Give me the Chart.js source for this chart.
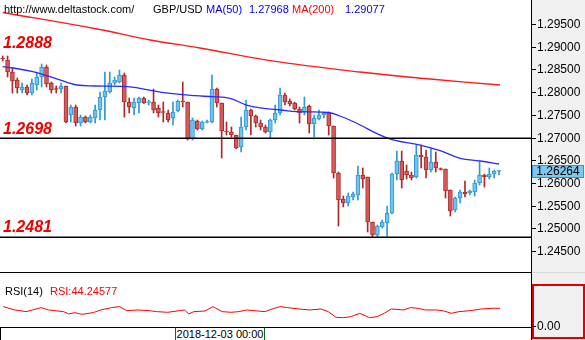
<!DOCTYPE html>
<html>
<head>
<meta charset="utf-8">
<script src="https://cdn.jsdelivr.net/npm/chart.js@4.4.1/dist/chart.umd.min.js"></script>
<style>
  html, body { margin: 0; padding: 0; background: #fff; }
  #wrap { position: relative; width: 585px; height: 340px; overflow: hidden; background: #fff;
          font-family: "Liberation Sans", Arial, sans-serif; }
  #axisPanel { position: absolute; left: 531px; top: 0; width: 53px; height: 340px;
               background: #f0f0f0; border-left: 1px solid #000; }
  #axisSplit { position: absolute; left: 532px; top: 272px; width: 53px; height: 1px; background: #d8d8d8; }
  #mainCanvas { position: absolute; left: 0; top: 0; }
  #rsiCanvas { position: absolute; left: 0; top: 273px; }
  #mainBottom { position: absolute; left: 0; top: 272px; width: 531px; height: 1px; background: #000; }
  #rsiBox { position: absolute; left: 532px; top: 284px; width: 53px; height: 55px; box-sizing: border-box;
            border: 2px solid #e00000; }
  #timeBar { position: absolute; left: 0; top: 327px; width: 531px; height: 13px; box-sizing: border-box;
             border-top: 1px solid #000; border-left: 1px solid #000; background: #fff; }
  #timeTag { position: absolute; left: 175px; top: 327px; width: 90px; height: 13px; box-sizing: border-box;
             border-left: 1px solid #0a6a0a; border-right: 1px solid #0a6a0a; border-top: 1px solid #000;
             font-size: 11px; line-height: 12px; text-align: center; color: #000; background: #fff; }
  .hdr { position: absolute; top: 3px; font-size: 11px; line-height: 12px; white-space: nowrap; }
  .rsiTxt { position: absolute; top: 285px; font-size: 11px; line-height: 12px; white-space: nowrap; }
</style>
</head>
<body>
<div id="wrap">
  <div id="axisPanel"></div>
  <div id="axisSplit"></div>
  <canvas id="mainCanvas" width="585" height="272"></canvas>
  <div id="mainBottom"></div>
  <div id="timeBar"></div>
  <div id="timeTag"></div>
  <div id="rsiBox"></div>
  <canvas id="rsiCanvas" width="585" height="67"></canvas>
  <div class="hdr" style="left:4px;color:#000">http://www.deltastock.com/</div>
  <div class="hdr" style="left:153px;color:#000">GBP/USD</div>
  <div class="hdr" style="left:206px;color:#0000ff">MA(50)</div>
  <div class="hdr" style="left:249px;color:#0000ff">1.27968</div>
  <div class="hdr" style="left:292px;color:#ff0000">MA(200)</div>
  <div class="hdr" style="left:345px;color:#0000ff">1.29077</div>
  <div class="rsiTxt" style="left:5px;color:#000">RSI(14)</div>
  <div class="rsiTxt" style="left:50px;color:#ff0000">RSI:44.24577</div>
</div>
<script>
// GBP/USD candles, one per session
const opens = [
  1.28751,1.28707,1.28443,1.28267,1.28046,1.28112,1.27980,1.28157,1.28333,1.28553,
  1.28201,1.28068,1.28068,1.28135,1.27496,1.27672,1.27319,1.27452,1.27341,1.27430,
  1.27606,1.27892,1.28002,1.28201,1.28223,1.28377,1.27782,1.27650,1.27760,1.27870,
  1.27771,1.27782,1.27650,1.27562,1.27540,1.27430,1.27584,1.27804,1.27782,1.26967,
  1.27363,1.27187,1.27330,1.27341,1.28068,1.27760,1.27143,1.27121,1.27055,1.26791,
  1.27231,1.27606,1.27474,1.27319,1.27231,1.27121,1.27385,1.27540,1.27936,1.27804,
  1.27760,1.27628,1.27562,1.27694,1.27297,1.27408,1.27496,1.27540,1.27253,1.26218,
  1.25646,1.25558,1.25690,1.25734,1.26174,1.26130,1.25139,1.24853,1.25029,1.25117,
  1.25338,1.26196,1.26483,1.26262,1.26174,1.26130,1.26615,1.26571,1.26284,1.26461,
  1.26307,1.26307,1.25844,1.25404,1.25668,1.25800,1.25778,1.25800,1.25998,1.26174,
  1.26130,1.26196,1.26258
];
const highs = [
  1.28795,1.28795,1.28531,1.28311,1.28201,1.28157,1.28289,1.28421,1.28619,1.28597,
  1.28223,1.28135,1.28201,1.28135,1.27716,1.27716,1.27496,1.27474,1.27496,1.27716,
  1.28002,1.28443,1.28443,1.28333,1.28487,1.28421,1.27870,1.27870,1.27892,1.27892,
  1.27826,1.28068,1.27716,1.27782,1.27606,1.27782,1.27826,1.28223,1.27782,1.27430,
  1.27385,1.27363,1.27385,1.28377,1.28090,1.27760,1.27341,1.27231,1.27055,1.27452,
  1.27826,1.27628,1.27496,1.27385,1.27275,1.27408,1.27716,1.28090,1.27980,1.27848,
  1.27782,1.27672,1.27892,1.27716,1.27496,1.27606,1.27562,1.27562,1.27253,1.26240,
  1.25712,1.25778,1.25800,1.26373,1.26329,1.26130,1.25139,1.25073,1.25183,1.25492,
  1.26218,1.26703,1.26703,1.26395,1.26240,1.26835,1.26835,1.26725,1.26769,1.26681,
  1.26329,1.26307,1.25844,1.25690,1.25844,1.26042,1.25844,1.26064,1.26461,1.26196,
  1.26329,1.26284,1.26264
];
const lows = [
  1.28685,1.28333,1.27980,1.27980,1.27980,1.27936,1.27936,1.28046,1.28112,1.28112,
  1.27980,1.27980,1.27980,1.27319,1.27341,1.27253,1.27253,1.27319,1.27319,1.27319,
  1.27385,1.27385,1.27980,1.28157,1.28201,1.27452,1.27540,1.27496,1.27540,1.27750,
  1.27716,1.27540,1.27452,1.27341,1.27341,1.27275,1.27562,1.27672,1.26945,1.26945,
  1.27165,1.27165,1.27319,1.27319,1.27672,1.26549,1.27055,1.27011,1.26747,1.26681,
  1.27165,1.27055,1.27231,1.27165,1.27099,1.26989,1.27319,1.27496,1.27716,1.27694,
  1.27606,1.27319,1.27496,1.27099,1.27011,1.27385,1.27430,1.27055,1.26108,1.25051,
  1.25470,1.25492,1.25624,1.25624,1.25888,1.24919,1.24809,1.24809,1.25007,1.24787,
  1.25316,1.26064,1.25888,1.26086,1.26064,1.26108,1.26329,1.26108,1.26240,1.26240,
  1.26284,1.25668,1.25272,1.25360,1.25558,1.25690,1.25734,1.25712,1.25954,1.25910,
  1.26086,1.26108,1.26174
];
const closes = [
  1.28729,1.28443,1.28245,1.28090,1.28112,1.27980,1.28201,1.28333,1.28553,1.28179,
  1.28046,1.28057,1.28135,1.27341,1.27672,1.27319,1.27452,1.27341,1.27452,1.27606,
  1.27892,1.28024,1.28201,1.28267,1.28377,1.27782,1.27672,1.27782,1.27870,1.27760,
  1.27782,1.27606,1.27540,1.27551,1.27385,1.27562,1.27804,1.27782,1.26967,1.27385,
  1.27187,1.27341,1.27341,1.28068,1.27760,1.27143,1.27121,1.27055,1.26769,1.27231,
  1.27606,1.27474,1.27319,1.27231,1.27121,1.27385,1.27540,1.27936,1.27782,1.27738,
  1.27628,1.27540,1.27672,1.27297,1.27430,1.27496,1.27540,1.27253,1.26218,1.25624,
  1.25558,1.25712,1.25756,1.26174,1.26086,1.25139,1.24853,1.25051,1.25139,1.25338,
  1.26196,1.26483,1.26064,1.26174,1.26108,1.26615,1.26571,1.26284,1.26461,1.26329,
  1.26296,1.25822,1.25382,1.25668,1.25800,1.25756,1.25822,1.25998,1.26174,1.26130,
  1.26196,1.26262,1.26264
];

// moving averages, sampled at bar positions
const ma50Bars = [0, 2.1, 6.2, 9.7, 13.2, 15.2, 19.0, 25.7, 32.7, 39.5, 43.2, 46.7, 50.1, 53.6,
                  57.0, 60.4, 66.9, 69.3, 72.1, 79.2, 85.8, 89.9, 94.0, 98.1, 102.0];
const ma50Values = [1.28560, 1.28531, 1.28450, 1.28340, 1.28216, 1.28157, 1.28135, 1.28119, 1.27996,
                    1.27921, 1.27899, 1.27864, 1.27716, 1.27644, 1.27606, 1.27569, 1.27551, 1.27474,
                    1.27348, 1.26983, 1.26835, 1.26710, 1.26542, 1.26483, 1.26417];
const ma200Bars = [0, 19.4, 30.3, 40.5, 54.3, 73.4, 87.8, 102.2];
const ma200Values = [1.29754, 1.29390, 1.29148, 1.28972, 1.28707, 1.28443, 1.28289, 1.28157];

// RSI(14), sampled at bar positions
const rsiBars = [0.1, 2.5, 4.8, 7.9, 9.4, 12.5, 13.6, 14.8, 16.3, 18.6, 20.1, 22.4, 24.0, 25.5, 27.8,
                 30.1, 31.6, 33.9, 36.3, 37.4, 38.2, 39.3, 41.6, 43.2, 45.1, 47.0, 48.5, 50.1, 52.4,
                 53.9, 55.4, 57.0, 58.5, 60.8, 63.1, 65.4, 66.9, 68.5, 70.0, 71.5, 73.4, 75.4, 76.9,
                 78.4, 79.9, 82.3, 83.8, 85.3, 86.9, 89.2, 90.7, 92.2, 93.8, 96.1, 98.4, 100.7, 102.2];
const rsiValues = [48.3, 40.2, 36.2, 45.9, 40.2, 36.2, 30.6, 33.8, 29.8, 33.8, 40.2, 45.9, 48.3, 38.6, 40.2,
                   38.6, 36.2, 34.6, 38.6, 40.2, 30.6, 36.2, 37.8, 48.3, 36.2, 34.6, 36.2, 40.2, 37.8,
                   36.2, 42.6, 48.3, 45.9, 42.6, 40.2, 42.6, 36.2, 22.5, 21.7, 24.1, 32.2, 21.7, 24.1,
                   32.2, 42.6, 40.2, 45.9, 44.2, 40.2, 40.2, 37.8, 32.2, 36.2, 38.6, 42.6, 44.2, 44.25];

// price axis and marked levels
const priceTicks = [1.295, 1.29, 1.285, 1.28, 1.275, 1.27, 1.265, 1.26, 1.255, 1.25, 1.245];
const levelLabels = [1.2888, 1.2698, 1.2481];
const levelLines = [1.2698, 1.2481];
const rsiTicks = [0];
const timeLabels = ['2018-12-03 00:00'];

document.getElementById('timeTag').textContent = timeLabels[0];

const BULL_FILL = '#6cc4ef', BULL_EDGE = '#2f97d4';
const BEAR_FILL = '#d75a5a', BEAR_EDGE = '#b02828';
const FONT = '"Liberation Sans", Arial, sans-serif';

const idx = opens.map((_, i) => i);
const isBull = idx.map(i => closes[i] >= opens[i]);

const xRange = { min: -0.555, max: 108.57 };

const mainOverlay = {
  id: 'mainOverlay',
  afterDatasetsDraw(chart) {
    const ctx = chart.ctx, y = chart.scales.y, area = chart.chartArea;
    ctx.save();
    ctx.strokeStyle = '#000';
    ctx.lineWidth = 1.5;
    levelLines.forEach(v => {
      const py = Math.round(y.getPixelForValue(v)) + 0.25;
      ctx.beginPath(); ctx.moveTo(0, py); ctx.lineTo(area.right, py); ctx.stroke();
    });
    ctx.fillStyle = '#ee0000';
    ctx.font = 'italic bold 16px ' + FONT;
    ctx.textBaseline = 'alphabetic';
    levelLabels.forEach(v => {
      ctx.fillText(v.toFixed(4), 3, y.getPixelForValue(v) - 4.5);
    });
    ctx.restore();
  },
  afterDraw(chart) {
    const ctx = chart.ctx, y = chart.scales.y, area = chart.chartArea;
    ctx.save();
    ctx.font = '12px ' + FONT;
    ctx.textBaseline = 'middle';
    ctx.fillStyle = '#000';
    ctx.strokeStyle = '#000';
    ctx.lineWidth = 1;
    priceTicks.forEach(v => {
      const py = Math.round(y.getPixelForValue(v)) + 0.5;
      ctx.beginPath(); ctx.moveTo(area.right + 1, py); ctx.lineTo(area.right + 5, py); ctx.stroke();
      ctx.fillText(v.toFixed(5), area.right + 6, py);
    });
    // last price tag
    const last = closes[closes.length - 1];
    const ly = Math.round(y.getPixelForValue(last));
    ctx.fillStyle = '#7cc8f0';
    ctx.fillRect(area.right + 1, ly - 6, 52, 13);
    ctx.strokeStyle = '#3a8fd0';
    ctx.strokeRect(area.right + 1.5, ly - 5.5, 51, 12);
    ctx.fillStyle = '#000';
    ctx.textAlign = 'center';
    ctx.fillText(last.toFixed(5), area.right + 27, ly + 0.5);
    ctx.restore();
  }
};

new Chart(document.getElementById('mainCanvas'), {
  type: 'bar',
  data: {
    datasets: [
      {
        type: 'line', label: 'MA(200)', order: -2,
        data: ma200Bars.map((b, i) => ({ x: b, y: ma200Values[i] })),
        borderColor: '#ff1a1a', borderWidth: 1.3, pointRadius: 0, tension: 0.4, fill: false
      },
      {
        type: 'line', label: 'MA(50)', order: -1,
        data: ma50Bars.map((b, i) => ({ x: b, y: ma50Values[i] })),
        borderColor: '#2a2aff', borderWidth: 1.3, pointRadius: 0, tension: 0.4, fill: false
      },
      {
        label: 'body', order: 0, grouped: false,
        data: idx.map(i => ({ x: i, y: [opens[i], closes[i]] })),
        backgroundColor: idx.map(i => isBull[i] ? BULL_FILL : BEAR_FILL),
        borderColor: idx.map(i => isBull[i] ? BULL_EDGE : BEAR_EDGE),
        borderWidth: 1, borderSkipped: false, barThickness: 4, minBarLength: 1
      },
      {
        label: 'wick', order: 1, grouped: false,
        data: idx.map(i => ({ x: i, y: [lows[i], highs[i]] })),
        backgroundColor: idx.map(i => isBull[i] ? BULL_EDGE : BEAR_EDGE),
        borderWidth: 0, barThickness: 1
      }
    ]
  },
  options: {
    responsive: false, animation: false,
    layout: { padding: { left: 0, right: 54, top: 0, bottom: 0 } },
    plugins: { legend: { display: false }, tooltip: { enabled: false } },
    events: [],
    scales: {
      x: { type: 'linear', min: xRange.min, max: xRange.max, offset: false, display: false },
      y: { type: 'linear', min: 1.24038, max: 1.30029, display: false }
    }
  },
  plugins: [mainOverlay]
});

const rsiOverlay = {
  id: 'rsiOverlay',
  afterDraw(chart) {
    const ctx = chart.ctx, y = chart.scales.y, area = chart.chartArea;
    ctx.save();
    ctx.font = '12px ' + FONT;
    ctx.textBaseline = 'middle';
    ctx.fillStyle = '#000';
    ctx.strokeStyle = '#000';
    ctx.lineWidth = 1;
    rsiTicks.forEach(v => {
      const py = Math.round(y.getPixelForValue(v)) - 0.5;
      ctx.beginPath(); ctx.moveTo(area.right + 1, py); ctx.lineTo(area.right + 5, py); ctx.stroke();
      ctx.fillText(v.toFixed(2), area.right + 6, py);
    });
    ctx.restore();
  }
};

new Chart(document.getElementById('rsiCanvas'), {
  type: 'line',
  data: {
    datasets: [{
      label: 'RSI(14)',
      data: rsiBars.map((b, i) => ({ x: b, y: rsiValues[i] })),
      borderColor: '#ff0000', borderWidth: 1, pointRadius: 0, tension: 0, fill: false
    }]
  },
  options: {
    responsive: false, animation: false,
    layout: { padding: { left: 0, right: 54, top: 0, bottom: 13 } },
    plugins: { legend: { display: false }, tooltip: { enabled: false } },
    events: [],
    scales: {
      x: { type: 'linear', min: xRange.min, max: xRange.max, display: false },
      y: { type: 'linear', min: -0.7, max: 129, display: false }
    }
  },
  plugins: [rsiOverlay]
});
</script>
</body>
</html>
